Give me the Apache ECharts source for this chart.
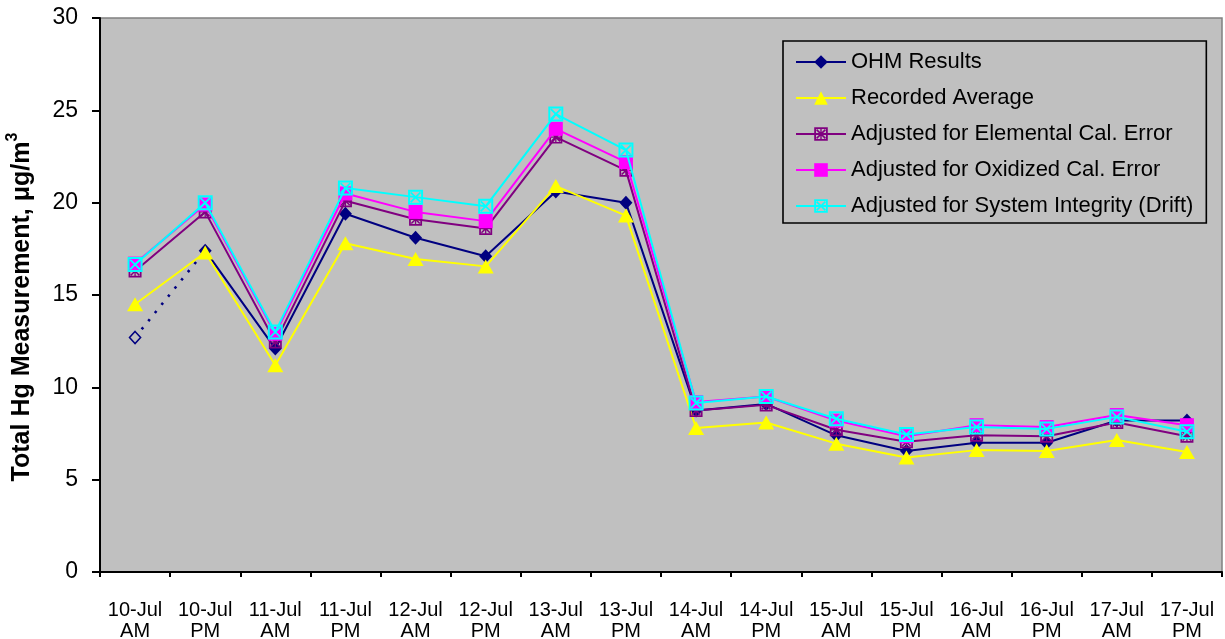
<!DOCTYPE html>
<html>
<head>
<meta charset="utf-8">
<title>Total Hg Measurement</title>
<script src="https://cdn.jsdelivr.net/npm/echarts@6/dist/echarts.min.js"></script>
<style>
  html, body { margin: 0; padding: 0; background: #ffffff; }
  #chart { width: 1225px; height: 639px; }
</style>
</head>
<body>
<div id="chart"></div>
<script>
// Sampling periods (two per day)
const categories = [
  '10-Jul\nAM', '10-Jul\nPM', '11-Jul\nAM', '11-Jul\nPM',
  '12-Jul\nAM', '12-Jul\nPM', '13-Jul\nAM', '13-Jul\nPM',
  '14-Jul\nAM', '14-Jul\nPM', '15-Jul\nAM', '15-Jul\nPM',
  '16-Jul\nAM', '16-Jul\nPM', '17-Jul\nAM', '17-Jul\nPM'
];

// Total Hg, µg/m3
const ohmResults = [12.7, 17.4, 12.1, 19.4, 18.1, 17.1, 20.6, 20.0, 8.75, 9.1, 7.4, 6.55, 7.0, 7.0, 8.2, 8.2];
const recordedAverage = [14.5, 17.3, 11.2, 17.8, 16.95, 16.55, 20.9, 19.3, 7.8, 8.1, 6.95, 6.2, 6.6, 6.55, 7.15, 6.5];
const elementalAdj = [16.3, 19.5, 12.45, 20.1, 19.1, 18.6, 23.55, 21.75, 8.75, 9.05, 7.7, 7.05, 7.4, 7.35, 8.1, 7.35];
const oxidizedAdj = [16.7, 19.9, 12.9, 20.5, 19.5, 19.0, 24.0, 22.2, 9.2, 9.5, 8.2, 7.35, 7.95, 7.85, 8.5, 7.95];
const driftAdj = [16.65, 20.0, 13.0, 20.8, 20.3, 19.8, 24.8, 22.85, 9.15, 9.5, 8.3, 7.45, 7.85, 7.75, 8.4, 7.6];

const yTicks = { min: 0, max: 30, interval: 5 };

// Marker outlines: square ring with diagonal cross; the elemental one adds a plus
const RING = 'M0 0 H12 V12 H0 Z M1.6 1.6 V10.4 H10.4 V1.6 Z';
const CROSS = 'M1.6 2.6 L2.6 1.6 L10.4 9.4 L9.4 10.4 Z M9.4 1.6 L10.4 2.6 L2.6 10.4 L1.6 9.4 Z';
const PLUS = 'M5.4 1.6 H6.6 V10.4 H5.4 Z M1.6 5.4 H10.4 V6.6 H1.6 Z';
const boxCross = 'path://' + RING + ' ' + CROSS;
const boxStar = 'path://' + RING + ' ' + CROSS + ' ' + PLUS;

const FONT = 'Arial, "Liberation Sans", sans-serif';
const BG = '#C0C0C0';

// Main OHM line starts at the second period; the first reading is joined by a dotted segment
const ohmMain = ohmResults.map((v, i) => (i === 0 ? '-' : v));
const ohmLead = ohmResults.map((v, i) => {
  if (i === 0) return { value: v, itemStyle: { color: BG, borderColor: '#000080', borderWidth: 1.6 } };
  if (i === 1) return { value: v, symbol: 'none' };
  return '-';
});

const chart = echarts.init(document.getElementById('chart'), null, { renderer: 'canvas' });

chart.setOption({
  animation: false,
  backgroundColor: '#ffffff',
  textStyle: { fontFamily: FONT, color: '#000' },
  grid: {
    left: 100, right: 3, top: 18, bottom: 67,
    containLabel: false, outerBoundsMode: 'none',
    show: true, backgroundColor: BG, borderColor: '#808080', borderWidth: 1.5
  },
  legend: {
    orient: 'vertical',
    left: 783, top: 41,
    padding: [9, 13, 5, 12],
    itemGap: 12,
    itemWidth: 50,
    itemHeight: 17,
    backgroundColor: 'transparent',
    borderColor: '#000', borderWidth: 1.6,
    textStyle: { fontFamily: FONT, fontSize: 22, color: '#000', lineHeight: 24, padding: [0, 0, 0, 0] },
    data: [
      'OHM Results', 'Recorded Average', 'Adjusted for Elemental Cal. Error',
      'Adjusted for Oxidized Cal. Error', 'Adjusted for System Integrity (Drift)'
    ]
  },
  xAxis: {
    type: 'category',
    data: categories,
    boundaryGap: true,
    axisLine: { lineStyle: { color: '#000', width: 2 } },
    axisTick: { show: true, interval: 0, length: 5, lineStyle: { color: '#000', width: 2 } },
    axisLabel: {
      interval: 0, margin: 28, fontFamily: FONT, fontSize: 20, lineHeight: 21, color: '#000'
    },
    splitLine: { show: false }
  },
  yAxis: {
    type: 'value',
    min: yTicks.min, max: yTicks.max, interval: yTicks.interval,
    name: '{t|Total Hg Measurement, μg/m}{s|3}',
    nameLocation: 'middle',
    nameRotate: 90,
    nameGap: 65,
    nameTextStyle: {
      padding: [0, 24, 0, 0],
      rich: {
        t: { fontFamily: FONT, fontSize: 25, fontWeight: 'bold', color: '#000', verticalAlign: 'bottom', lineHeight: 30 },
        s: { fontFamily: FONT, fontSize: 16, fontWeight: 'bold', color: '#000', verticalAlign: 'top', lineHeight: 30, padding: [0, 0, 14, 0] }
      }
    },
    axisLine: { show: true, lineStyle: { color: '#000', width: 2 } },
    axisTick: { show: true, length: 8, lineStyle: { color: '#000', width: 2 } },
    axisLabel: { margin: 22, fontFamily: FONT, fontSize: 23, color: '#000' },
    splitLine: { show: false }
  },
  series: [
    {
      name: 'OHM Results', type: 'line', data: ohmMain,
      symbol: 'diamond', symbolSize: [13, 14],
      itemStyle: { color: '#000080' },
      lineStyle: { color: '#000080', width: 2 }, z: 2
    },
    {
      name: 'OHM lead', type: 'line', data: ohmLead,
      symbol: 'diamond', symbolSize: [11, 12], showAllSymbol: true,
      itemStyle: { color: '#000080' },
      lineStyle: { color: '#000080', width: 2.6, type: [2.5, 8] }, z: 2
    },
    {
      name: 'Recorded Average', type: 'line', data: recordedAverage,
      symbol: 'triangle', symbolSize: [16, 14],
      itemStyle: { color: '#FFFF00' },
      lineStyle: { color: '#FFFF00', width: 2 }, z: 3
    },
    {
      name: 'Adjusted for Elemental Cal. Error', type: 'line', data: elementalAdj,
      symbol: boxStar, symbolSize: 13,
      itemStyle: { color: '#800080' },
      lineStyle: { color: '#800080', width: 2 }, z: 4
    },
    {
      name: 'Adjusted for Oxidized Cal. Error', type: 'line', data: oxidizedAdj,
      symbol: 'rect', symbolSize: 14,
      itemStyle: { color: '#FF00FF' },
      lineStyle: { color: '#FF00FF', width: 2 }, z: 5
    },
    {
      name: 'Adjusted for System Integrity (Drift)', type: 'line', data: driftAdj,
      symbol: boxCross, symbolSize: 15,
      itemStyle: { color: '#00FFFF' },
      lineStyle: { color: '#00FFFF', width: 2 }, z: 6
    }
  ]
});
</script>
</body>
</html>
